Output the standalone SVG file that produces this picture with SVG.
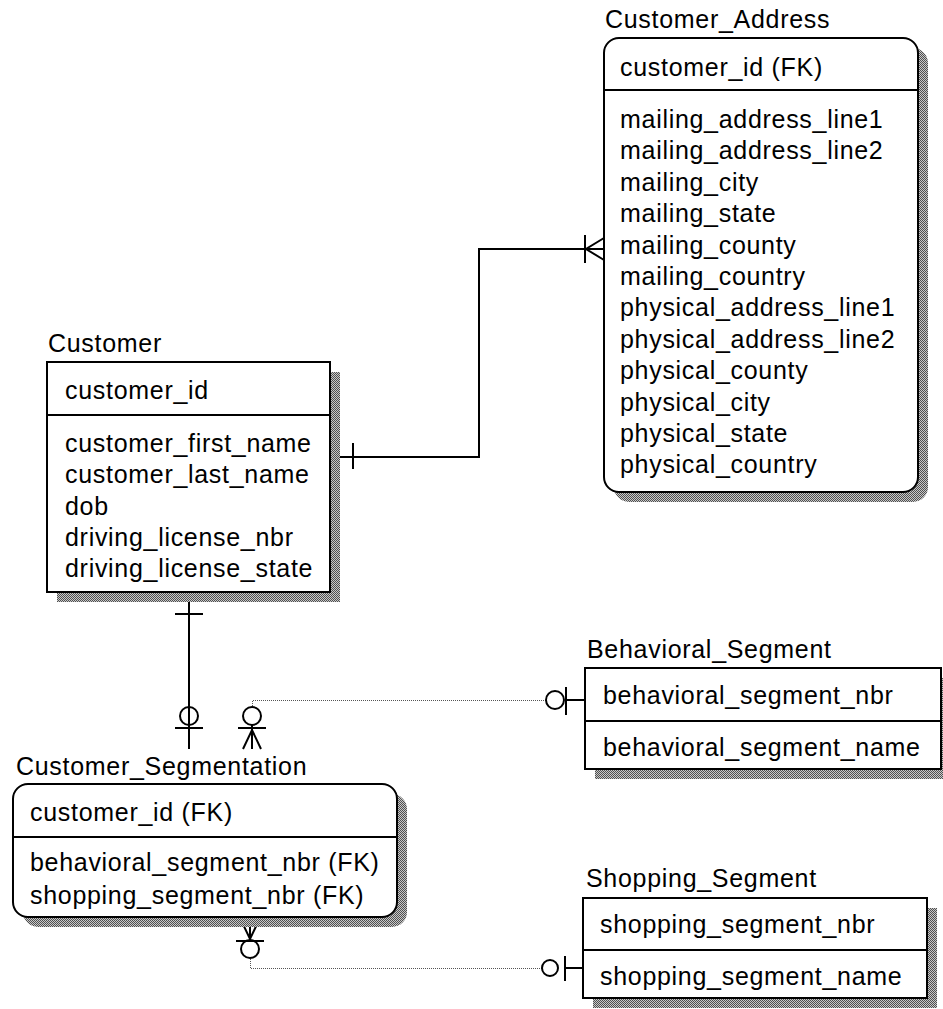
<svg xmlns="http://www.w3.org/2000/svg" width="943" height="1009" viewBox="0 0 943 1009">
<defs>
<pattern id="dither" width="2" height="2" patternUnits="userSpaceOnUse">
<rect width="2" height="2" fill="#c8c8c8"/>
<rect width="1" height="1" fill="#505050"/>
<rect x="1" y="1" width="1" height="1" fill="#505050"/>
</pattern>
</defs>
<style>
text{font-family:"Liberation Sans",Arial,sans-serif;font-size:25px;letter-spacing:0.7px;fill:#000}
.box{fill:#fff;stroke:#000;stroke-width:2}
.shadow{fill:url(#dither);stroke:none}
.div{stroke:#000;stroke-width:2}
.rel{fill:none;stroke:#000;stroke-width:2}
.thin{fill:none;stroke:#555;stroke-width:1;stroke-dasharray:1 1}
.sym{fill:none;stroke:#000;stroke-width:2}
</style>
<rect width="943" height="1009" fill="#fff"/>

<g id="connectors">
<!-- Customer to Customer_Address -->
<polyline class="rel" points="330,457 479,457 479,249 604,249"/>
<line class="sym" x1="353" y1="443" x2="353" y2="469"/>
<line class="sym" x1="585" y1="235" x2="585" y2="263"/>
<polyline class="sym" points="604,238 586,249 604,260"/>

<!-- Customer to Customer_Segmentation -->
<line class="rel" x1="189" y1="600" x2="189" y2="749"/>
<line class="sym" x1="175" y1="614" x2="203" y2="614"/>
<circle class="sym" cx="189" cy="716" r="9"/>
<line class="sym" x1="175" y1="728" x2="203" y2="728"/>

<!-- Behavioral_Segment to Customer_Segmentation -->
<polyline class="thin" points="546,700.5 252.5,700.5 252.5,707"/>
<circle class="sym" cx="555" cy="700" r="9"/>
<line class="sym" x1="566" y1="687" x2="566" y2="715"/>
<line class="rel" x1="566" y1="700" x2="585" y2="700"/>
<circle class="sym" cx="252" cy="716" r="9"/>
<line class="rel" x1="252" y1="725" x2="252" y2="749"/>
<line class="sym" x1="238" y1="728" x2="266" y2="728"/>
<polyline class="sym" points="243,749 252,730 261,749"/>

<!-- Shopping_Segment to Customer_Segmentation -->
<polyline class="thin" points="542,968.5 250.5,968.5 250.5,958"/>
<circle class="sym" cx="550" cy="968" r="8"/>
<line class="sym" x1="565" y1="956" x2="565" y2="981"/>
<line class="rel" x1="565" y1="968" x2="583" y2="968"/>
<circle class="sym" cx="250" cy="949" r="9"/>
<line class="sym" x1="236" y1="941" x2="264" y2="941"/>
<line class="rel" x1="250" y1="918" x2="250" y2="940"/>
<polyline class="sym" points="240,918 250,939 260,918"/>
</g>

<g id="Customer_Address">
<text x="605" y="28">Customer_Address</text>
<rect class="shadow" x="614" y="48" width="314" height="454" rx="15"/>
<rect class="box" x="604" y="38" width="314" height="454" rx="15"/>
<line class="div" x1="604" y1="90" x2="918" y2="90"/>
<text x="620" y="76">customer_id (FK)</text>
<text x="620" y="128">mailing_address_line1</text>
<text x="620" y="159.4">mailing_address_line2</text>
<text x="620" y="190.8">mailing_city</text>
<text x="620" y="222.2">mailing_state</text>
<text x="620" y="253.6">mailing_county</text>
<text x="620" y="285">mailing_country</text>
<text x="620" y="316.4">physical_address_line1</text>
<text x="620" y="347.8">physical_address_line2</text>
<text x="620" y="379.2">physical_county</text>
<text x="620" y="410.6">physical_city</text>
<text x="620" y="442">physical_state</text>
<text x="620" y="473.4">physical_country</text>
</g>

<g id="Customer">
<text x="48" y="352">Customer</text>
<rect class="shadow" x="57" y="372" width="283" height="230"/>
<rect class="box" x="47" y="362" width="283" height="230"/>
<line class="div" x1="47" y1="415" x2="330" y2="415"/>
<text x="65" y="399">customer_id</text>
<text x="65" y="452">customer_first_name</text>
<text x="65" y="483.3">customer_last_name</text>
<text x="65" y="514.6">dob</text>
<text x="65" y="545.9">driving_license_nbr</text>
<text x="65" y="577.2">driving_license_state</text>
</g>

<g id="Customer_Segmentation">
<text x="16" y="775">Customer_Segmentation</text>
<rect class="shadow" x="23" y="794" width="384" height="133" rx="15"/>
<rect class="box" x="13" y="784" width="384" height="133" rx="15"/>
<line class="div" x1="13" y1="837" x2="397" y2="837"/>
<text x="30" y="821">customer_id (FK)</text>
<text x="30" y="871">behavioral_segment_nbr (FK)</text>
<text x="30" y="904">shopping_segment_nbr (FK)</text>
</g>

<g id="Behavioral_Segment">
<text x="587" y="658">Behavioral_Segment</text>
<rect class="shadow" x="595" y="678" width="356" height="101"/>
<rect class="box" x="585" y="668" width="356" height="101"/>
<line class="div" x1="585" y1="721" x2="941" y2="721"/>
<text x="603" y="704">behavioral_segment_nbr</text>
<text x="603" y="756">behavioral_segment_name</text>
</g>

<g id="Shopping_Segment">
<text x="586" y="887">Shopping_Segment</text>
<rect class="shadow" x="593" y="908" width="344" height="100"/>
<rect class="box" x="583" y="898" width="344" height="100"/>
<line class="div" x1="583" y1="950" x2="927" y2="950"/>
<text x="600" y="933">shopping_segment_nbr</text>
<text x="600" y="985">shopping_segment_name</text>
</g>
</svg>
